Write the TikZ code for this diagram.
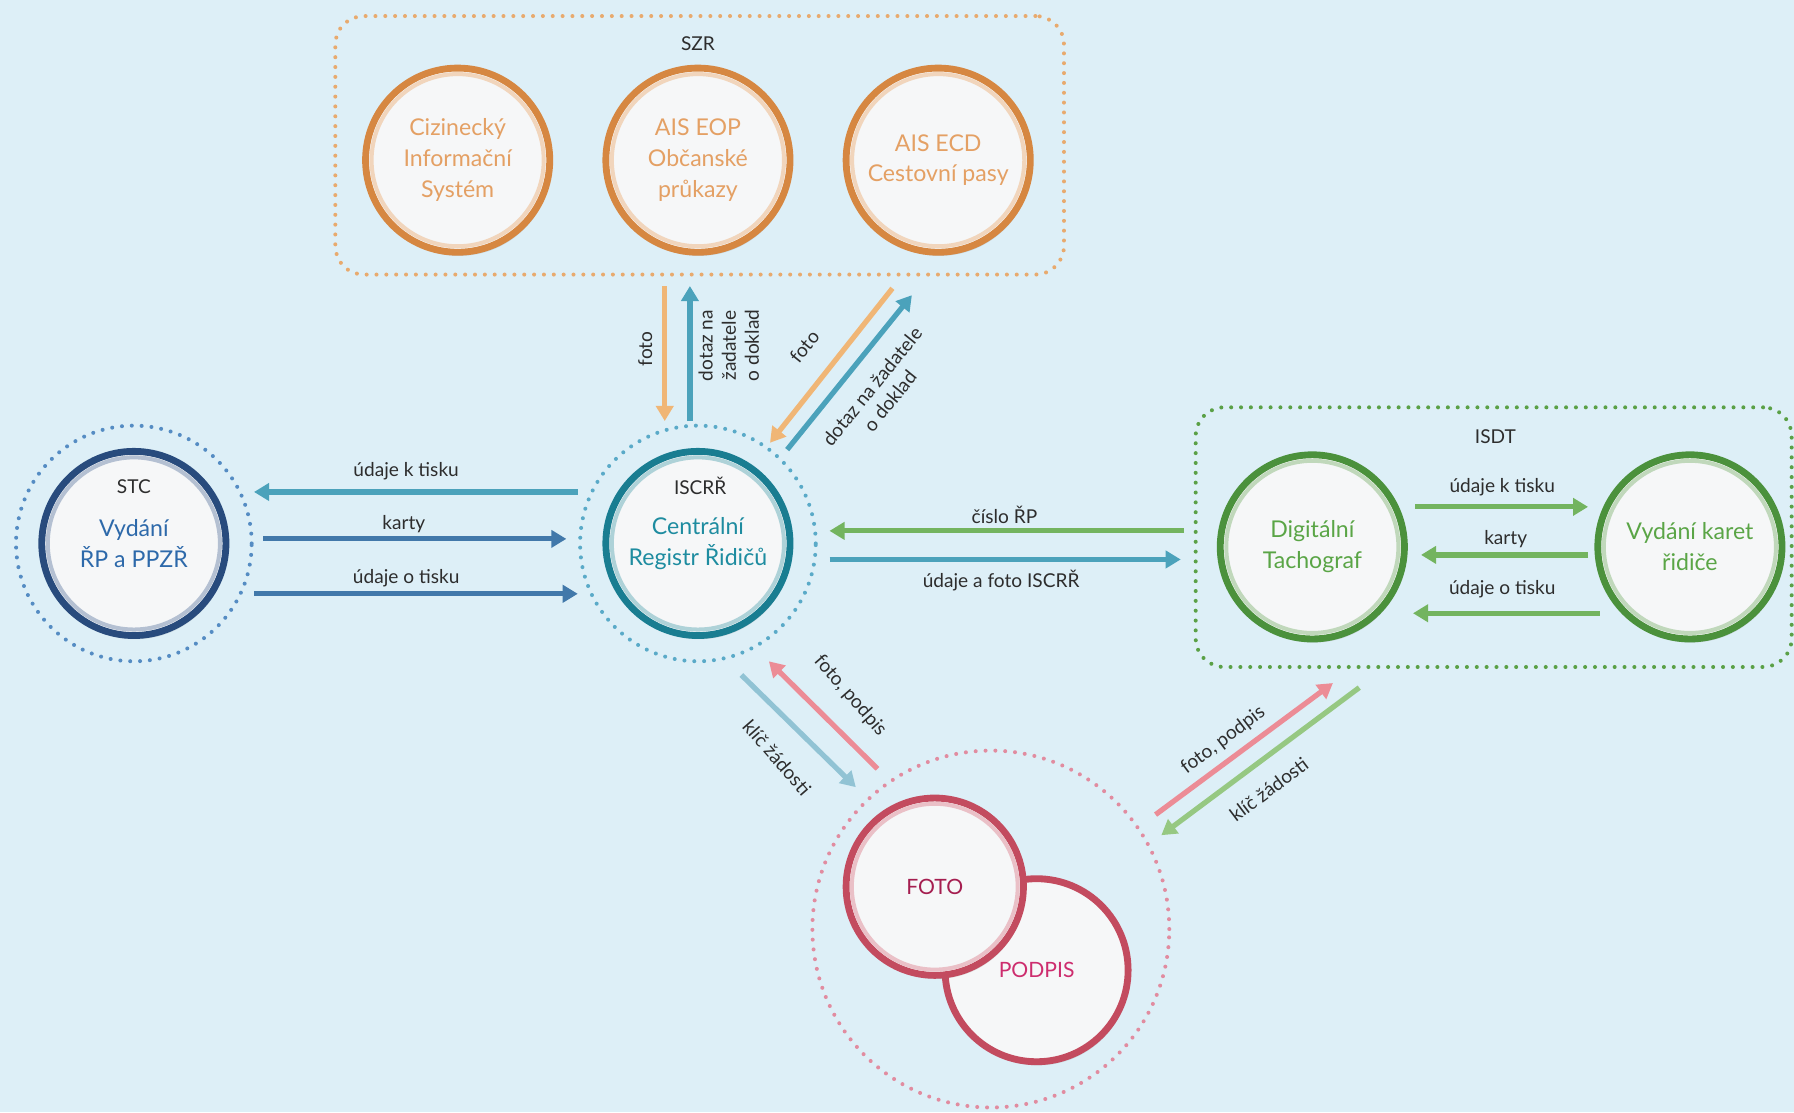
\documentclass[tikz,border=0pt]{standalone}
\usepackage{fontspec}
\setmainfont{Lato}
\usetikzlibrary{arrows.meta,shadows}
\definecolor{bgc}{RGB}{221,239,247}
\definecolor{cfill}{RGB}{246,247,248}
\definecolor{lbl}{RGB}{45,45,45}
% rings
\definecolor{rorange}{RGB}{214,135,65}
\definecolor{rblue}{RGB}{40,75,125}
\definecolor{rteal}{RGB}{25,125,145}
\definecolor{rgreen}{RGB}{75,145,60}
\definecolor{rpink}{RGB}{195,75,95}
% texts
\definecolor{torange}{RGB}{228,160,100}
\definecolor{tblue}{RGB}{45,105,170}
\definecolor{tteal}{RGB}{30,140,160}
\definecolor{tgreen}{RGB}{90,165,70}
\definecolor{tfoto}{RGB}{165,30,80}
\definecolor{tpodpis}{RGB}{205,45,110}
% arrows
\definecolor{aorange}{RGB}{240,182,118}
\definecolor{ateal}{RGB}{75,162,187}
\definecolor{ablue}{RGB}{65,120,170}
\definecolor{agreen}{RGB}{115,180,95}
\definecolor{apink}{RGB}{236,140,150}
\definecolor{alteal}{RGB}{145,195,212}
\definecolor{algreen}{RGB}{150,200,130}
% dotted
\definecolor{dorange}{RGB}{232,170,110}
\definecolor{dblue}{RGB}{85,140,195}
\definecolor{dteal}{RGB}{90,170,200}
\definecolor{dgreen}{RGB}{90,160,70}
\definecolor{dpink}{RGB}{225,140,160}
\begin{document}
\begin{tikzpicture}[x=0.02cm,y=-0.02cm,
  dots/.style={draw=#1, line width=2pt, dash pattern=on 0pt off 4.9pt, line cap=round},
  dotbox/.style={dots=#1, rectangle, rounded corners=0.5cm, inner sep=0pt},
  dotcirc/.style={dots=#1, circle, inner sep=0pt},
  ring/.style={circle, minimum size=3.22cm, inner sep=0pt, draw=#1, line width=3.4pt,
     fill=cfill, align=center, font=\fontsize{11.5}{15.3}\selectfont,
     drop shadow={opacity=0.22, shadow xshift=0.8pt, shadow yshift=-1.8pt}},
  lab/.style={text=lbl, font=\fontsize{9.5}{11.5}\selectfont, inner sep=1pt, align=center},
  arr/.style={draw=#1, line width=2.6pt, -{Triangle[length=7.5pt,width=8.5pt]}}
]
\useasboundingbox (0,0) rectangle (1568,972);
\fill[bgc] (0,0) rectangle (1568,972);

% groups
\node[dotbox=dorange, minimum width=12.74cm, minimum height=4.52cm] (szr) at (611.5,127) {};
\node[dotbox=dgreen, minimum width=10.42cm, minimum height=4.54cm] (isdt) at (1305.5,469.5) {};
\node[dotcirc=dblue, minimum size=4.12cm] (stcout) at (117,475) {};
\node[dotcirc=dteal, minimum size=4.12cm] (iscout) at (610,475) {};
\node[dotcirc=dpink, minimum size=6.24cm] (fpout) at (866,812) {};
\node[lab] (szrl) at (610,38) {SZR};
\node[lab] (isdtl) at (1307,382) {ISDT};

% rings
\node[ring=rorange, text=torange] (cis) at (400,140) {Cizinecký\\Informační\\Systém};
\node[ring=rorange, text=torange] (eop) at (610,140) {AIS EOP\\Občanské\\průkazy};
\node[ring=rorange, text=torange] (ecd) at (820,140) {AIS ECD\\Cestovní pasy};
\node[ring=rblue, text=tblue] (stc) at (117,475) {Vydání\\ŘP a PPZŘ};
\node[ring=rteal, text=tteal] (iscrr) at (610,475) {Centrální\\Registr Řidičů};
\node[ring=rgreen, text=tgreen] (dt) at (1147,478) {Digitální\\Tachograf};
\node[ring=rgreen, text=tgreen] (vk) at (1477,478) {Vydání karet\\řidiče};
\node[ring=rpink, text=tpodpis, minimum size=3.2cm, font=\fontsize{10.5}{12}\selectfont] (podpis) at (906,848) {PODPIS};
\node[ring=rpink, text=tfoto, minimum size=3.1cm, font=\fontsize{10.5}{12}\selectfont] (foto) at (817,775) {FOTO};
\foreach \n/\c/\r in {cis/rorange/1.505, eop/rorange/1.505, ecd/rorange/1.505, stc/rblue/1.505,
   iscrr/rteal/1.505, dt/rgreen/1.505, vk/rgreen/1.505, foto/rpink/1.45}
  \draw[\c!35!white, line width=2pt] (\n.center) circle[radius=\r cm];
\node[lab] (stcl) at (117,425) {STC};
\node[lab] (iscl) at (612,425) {ISCRŘ};

% endpoints
\coordinate (a1s) at (505,430); \coordinate (a1e) at (222,430);
\coordinate (a2s) at (230,471); \coordinate (a2e) at (495,471);
\coordinate (a3s) at (222,519); \coordinate (a3e) at (505,519);
\coordinate (b1s) at (581,250); \coordinate (b1e) at (581,368);
\coordinate (b2s) at (603,368); \coordinate (b2e) at (603,250);
\coordinate (c1s) at (780,252); \coordinate (c1e) at (673,387);
\coordinate (c2s) at (688,393); \coordinate (c2e) at (797,258);
\coordinate (d1s) at (1035,464); \coordinate (d1e) at (725,464);
\coordinate (d2s) at (725,489); \coordinate (d2e) at (1032,489);
\coordinate (e1s) at (1237,443); \coordinate (e1e) at (1388,443);
\coordinate (e2s) at (1388,485); \coordinate (e2e) at (1242,485);
\coordinate (e3s) at (1398,536); \coordinate (e3e) at (1235,536);
\coordinate (f1s) at (648,590); \coordinate (f1e) at (748,688);
\coordinate (f2s) at (767,672); \coordinate (f2e) at (672,578);
\coordinate (g1s) at (1010,712); \coordinate (g1e) at (1165,597);
\coordinate (g2s) at (1188,601); \coordinate (g2e) at (1015,730);

% arrows
\draw[arr=ateal] (a1s) -- (a1e);
\draw[arr=ablue] (a2s) -- (a2e);
\draw[arr=ablue] (a3s) -- (a3e);
\draw[arr=aorange] (b1s) -- (b1e);
\draw[arr=ateal] (b2s) -- (b2e);
\draw[arr=aorange] (c1s) -- (c1e);
\draw[arr=ateal] (c2s) -- (c2e);
\draw[arr=agreen] (d1s) -- (d1e);
\draw[arr=ateal] (d2s) -- (d2e);
\draw[arr=agreen] (e1s) -- (e1e);
\draw[arr=agreen] (e2s) -- (e2e);
\draw[arr=agreen] (e3s) -- (e3e);
\draw[arr=alteal] (f1s) -- (f1e);
\draw[arr=apink] (f2s) -- (f2e);
\draw[arr=apink] (g1s) -- (g1e);
\draw[arr=algreen] (g2s) -- (g2e);

% labels
\node[lab] (l1) at (355,412) {údaje k tisku};
\node[lab] (l2) at (353,458) {karty};
\node[lab] (l3) at (355,505) {údaje o tisku};
\node[lab, rotate=90] (l4) at (564,305) {foto};
\node[lab, rotate=90] (l5) at (637,302) {dotaz na\\žadatele\\o doklad};
\node[lab, rotate=51] (l6) at (703,303) {foto};
\node[lab, rotate=51] (l7) at (770,344) {dotaz na žadatele\\o doklad};
\node[lab] (l8) at (878,450) {číslo ŘP};
\node[lab] (l9) at (875,507) {údaje a foto ISCRŘ};
\node[lab] (l10) at (1313,426) {údaje k tisku};
\node[lab] (l11) at (1316,471) {karty};
\node[lab] (l12) at (1313,515) {údaje o tisku};
\node[lab, rotate=-49] (l13) at (743,608) {foto, podpis};
\node[lab, rotate=-49] (l14) at (679,662) {klíč žádosti};
\node[lab, rotate=37] (l15) at (1069,647) {foto, podpis};
\node[lab, rotate=37] (l16) at (1109,690) {klíč žádosti};
\end{tikzpicture}
\end{document}
